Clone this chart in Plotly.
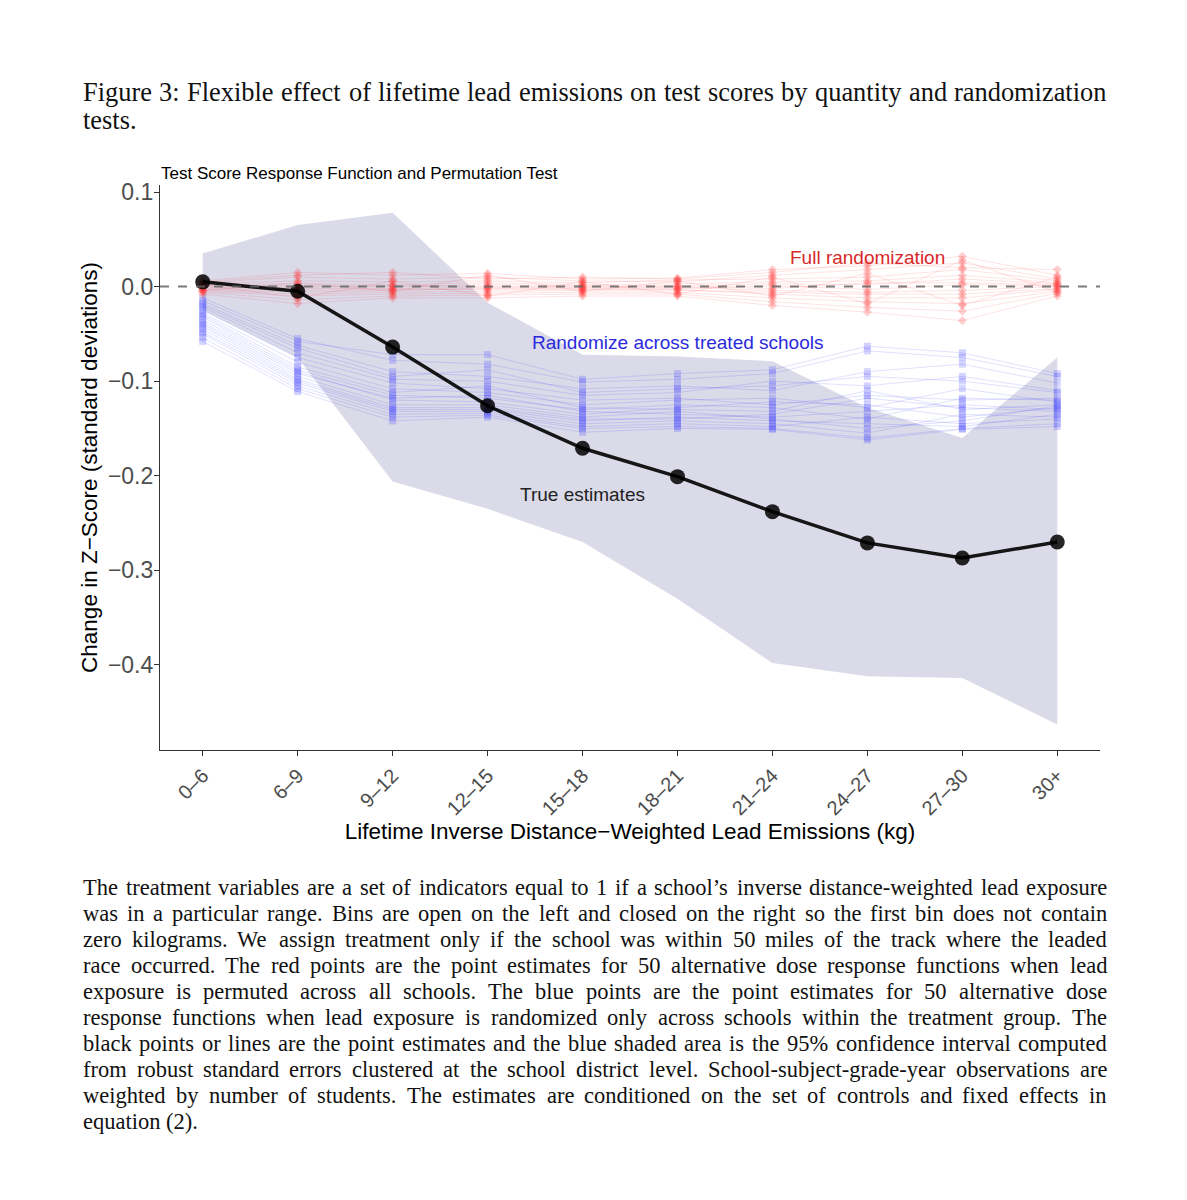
import plotly.graph_objects as go

categories = ["0–6", "6–9", "9–12", "12–15", "15–18", "18–21", "21–24", "24–27", "27–30", "30+"]

true_est = [0.005, -0.005, -0.064, -0.126, -0.171, -0.201, -0.238, -0.271, -0.287, -0.270]
ci_upper = [0.035, 0.065, 0.078, -0.017, -0.072, -0.074, -0.079, -0.128, -0.160, -0.075]
ci_lower = [-0.025, -0.075, -0.206, -0.235, -0.270, -0.330, -0.398, -0.412, -0.414, -0.463]

full_random = [
    [0.006, 0.015, 0.012, 0.014, 0.008, 0.009, 0.018, 0.022, 0.032, 0.012],
    [0.004, 0.010, 0.008, 0.010, 0.006, 0.005, 0.012, 0.018, 0.025, 0.008],
    [0.003, 0.006, 0.005, 0.006, 0.004, 0.007, 0.008, 0.010, 0.018, 0.006],
    [0.002, 0.003, 0.002, 0.004, 0.002, 0.003, 0.005, 0.006, 0.012, 0.004],
    [0.001, 0.001, 0.000, 0.002, 0.001, 0.001, 0.003, 0.002, 0.008, 0.003],
    [0.000, -0.001, 0.001, 0.000, 0.000, 0.000, -0.002, 0.004, 0.004, 0.002],
    [-0.001, -0.002, -0.002, -0.001, -0.001, -0.002, 0.001, -0.003, 0.002, 0.001],
    [-0.002, -0.004, -0.003, -0.003, -0.002, -0.001, -0.004, -0.006, -0.004, 0.000],
    [-0.003, -0.006, -0.004, -0.002, -0.003, -0.004, -0.006, -0.008, -0.008, -0.002],
    [-0.004, -0.008, -0.006, -0.005, -0.004, -0.003, -0.008, -0.012, -0.012, -0.003],
    [-0.005, -0.010, -0.008, -0.007, -0.006, -0.006, -0.012, -0.016, -0.018, -0.005],
    [-0.006, -0.014, -0.010, -0.009, -0.008, -0.008, -0.016, -0.022, -0.026, -0.007],
    [-0.008, -0.018, -0.012, -0.012, -0.010, -0.010, -0.020, -0.027, -0.036, -0.010],
    [0.005, 0.012, 0.015, 0.008, 0.010, 0.008, 0.015, 0.025, 0.020, 0.018],
    [-0.004, 0.004, -0.005, 0.012, -0.005, 0.006, -0.010, 0.014, -0.020, 0.010],
    [0.002, -0.012, 0.006, -0.010, 0.005, -0.008, 0.010, -0.018, 0.028, -0.006],
]

treated_random = [
    [-0.012, -0.055, -0.078, -0.082, -0.101, -0.098, -0.092, -0.068, -0.075, -0.095],
    [-0.015, -0.058, -0.072, -0.072, -0.098, -0.092, -0.088, -0.063, -0.070, -0.092],
    [-0.018, -0.062, -0.090, -0.095, -0.108, -0.105, -0.110, -0.090, -0.082, -0.102],
    [-0.020, -0.065, -0.095, -0.088, -0.112, -0.108, -0.105, -0.095, -0.100, -0.112],
    [-0.022, -0.070, -0.098, -0.100, -0.115, -0.112, -0.100, -0.105, -0.095, -0.110],
    [-0.025, -0.075, -0.102, -0.108, -0.120, -0.118, -0.125, -0.115, -0.120, -0.118],
    [-0.028, -0.080, -0.108, -0.112, -0.125, -0.120, -0.118, -0.128, -0.108, -0.122],
    [-0.030, -0.085, -0.112, -0.105, -0.128, -0.130, -0.132, -0.110, -0.130, -0.125],
    [-0.032, -0.088, -0.115, -0.118, -0.130, -0.125, -0.128, -0.140, -0.118, -0.120],
    [-0.035, -0.090, -0.120, -0.122, -0.135, -0.128, -0.122, -0.125, -0.138, -0.128],
    [-0.038, -0.092, -0.118, -0.115, -0.132, -0.135, -0.138, -0.132, -0.125, -0.130],
    [-0.040, -0.095, -0.125, -0.125, -0.138, -0.132, -0.140, -0.150, -0.142, -0.126],
    [-0.042, -0.098, -0.128, -0.128, -0.140, -0.140, -0.135, -0.118, -0.128, -0.132],
    [-0.045, -0.100, -0.130, -0.130, -0.142, -0.138, -0.142, -0.145, -0.148, -0.135],
    [-0.048, -0.102, -0.132, -0.132, -0.145, -0.142, -0.145, -0.155, -0.135, -0.138],
    [-0.050, -0.105, -0.135, -0.134, -0.148, -0.145, -0.148, -0.138, -0.145, -0.140],
    [-0.054, -0.108, -0.138, -0.136, -0.150, -0.148, -0.150, -0.160, -0.150, -0.145],
    [-0.058, -0.111, -0.142, -0.138, -0.154, -0.150, -0.151, -0.162, -0.151, -0.148],
]

figure_caption = [
    "Figure 3: Flexible effect of lifetime lead emissions on test scores by quantity and randomization",
    "tests.",
]

note_lines = [
    "The treatment variables are a set of indicators equal to 1 if a school’s inverse distance-weighted lead exposure",
    "was in a particular range. Bins are open on the left and closed on the right so the first bin does not contain",
    "zero kilograms. We assign treatment only if the school was within 50 miles of the track where the leaded",
    "race occurred. The red points are the point estimates for 50 alternative dose response functions when lead",
    "exposure is permuted across all schools. The blue points are the point estimates for 50 alternative dose",
    "response functions when lead exposure is randomized only across schools within the treatment group. The",
    "black points or lines are the point estimates and the blue shaded area is the 95% confidence interval computed",
    "from robust standard errors clustered at the school district level. School-subject-grade-year observations are",
    "weighted by number of students. The estimates are conditioned on the set of controls and fixed effects in",
    "equation (2).",
]

SANS = "Liberation Sans, Arial, sans-serif"
SERIF = "Liberation Serif, Times New Roman, serif"

# plot-area geometry in page pixels (used only to place the surrounding text block)
PL, PR, PT, PB = 160, 1100, 185, 750
TEXT_L, TEXT_R = 82, 1106

# Times-compatible advance widths (per 1000 em) for justifying text lines
_W = {" ": 250, ".": 250, ",": 250, "-": 333, ":": 278, "(": 333, ")": 333, "%": 833, "’": 333}
_W.update({c: 500 for c in "0123456789"})
_W.update(dict(zip("abcdefghijklmnopqrstuvwxyz",
                   [444, 500, 444, 500, 444, 333, 500, 500, 278, 278, 500, 278, 778, 500, 500, 500, 500,
                    333, 389, 278, 500, 500, 722, 500, 500, 444])))
_W.update(dict(zip("ABCDEFGHIJKLMNOPQRSTUVWXYZ",
                   [722, 667, 667, 722, 611, 556, 722, 722, 333, 389, 722, 611, 889, 722, 722, 556, 722,
                    667, 556, 611, 722, 722, 944, 722, 722, 611])))


def word_width(w, size):
    return sum(_W.get(c, 500) for c in w) * size / 1000.0


def px_to_paper(xp, yp):
    return (xp - PL) / (PR - PL), (PB - yp) / (PB - PT)


def add_text_block(fig, lines, y_first, spacing, size):
    for i, line in enumerate(lines):
        y_px = y_first + i * spacing
        last = i == len(lines) - 1
        if last:
            xp, yp = px_to_paper(TEXT_L, y_px)
            fig.add_annotation(xref="paper", yref="paper", x=xp, y=yp, xanchor="left", yanchor="middle",
                               text=line, showarrow=False, borderpad=0,
                               font=dict(family=SERIF, size=size, color="#111111"))
            continue
        words = line.split(" ")
        total = sum(word_width(w, size) for w in words)
        gap = (TEXT_R - TEXT_L - total) / (len(words) - 1)
        x = TEXT_L
        for w in words:
            xp, yp = px_to_paper(x, y_px)
            fig.add_annotation(xref="paper", yref="paper", x=xp, y=yp, xanchor="left", yanchor="middle",
                               text=w, showarrow=False, borderpad=0,
                               font=dict(family=SERIF, size=size, color="#111111"))
            x += word_width(w, size) + gap


fig = go.Figure()

# confidence band
fig.add_trace(go.Scatter(
    x=categories + categories[::-1],
    y=ci_upper + ci_lower[::-1],
    fill="toself", fillcolor="rgba(200,200,222,0.68)",
    line=dict(width=0), mode="lines", hoverinfo="skip", showlegend=False,
))

# treated-school randomization lines
for row in treated_random:
    fig.add_trace(go.Scatter(
        x=categories, y=row, mode="lines+markers",
        line=dict(color="rgba(40,40,255,0.14)", width=1),
        marker=dict(color="rgba(60,60,255,0.22)", size=7, symbol="square"),
        showlegend=False, hoverinfo="skip",
    ))

# full randomization lines
for row in full_random:
    fig.add_trace(go.Scatter(
        x=categories, y=row, mode="lines+markers",
        line=dict(color="rgba(255,40,40,0.13)", width=1),
        marker=dict(color="rgba(255,40,40,0.22)", size=7, symbol="diamond"),
        showlegend=False, hoverinfo="skip",
    ))

# true estimates
fig.add_trace(go.Scatter(
    x=categories, y=true_est, mode="lines+markers",
    line=dict(color="rgba(0,0,0,0.9)", width=3.5),
    marker=dict(color="rgba(0,0,0,0.85)", size=15),
    showlegend=False,
))

# zero reference line
fig.add_shape(type="line", xref="paper", x0=0, x1=1, yref="y", y0=0, y1=0,
              line=dict(color="rgba(100,100,100,0.85)", width=2, dash="dash"))

fig.add_annotation(x=7, y=0.0307, text="Full randomization", showarrow=False,
                   font=dict(family=SANS, size=19, color="#d8282a"))
fig.add_annotation(x=5, y=-0.0592, text="Randomize across treated schools", showarrow=False,
                   font=dict(family=SANS, size=19, color="#2a2adc"))
fig.add_annotation(x=4, y=-0.220, text="True estimates", showarrow=False,
                   font=dict(family=SANS, size=19, color="#222222"))

# plot title
fig.add_annotation(xref="paper", yref="paper", x=0.0, y=1.0, xanchor="left", yanchor="middle",
                   yshift=PT - 173, text="Test Score Response Function and Permutation Test",
                   showarrow=False, borderpad=0, font=dict(family=SANS, size=17, color="black"))

# figure caption (above) and note (below)
add_text_block(fig, figure_caption, 92, 28, 26.4)
add_text_block(fig, note_lines, 887, 26.1, 22.5)

fig.update_layout(
    width=1179, height=1192,
    margin=dict(l=152, r=87, t=177, b=450),
    paper_bgcolor="white", plot_bgcolor="white",
    font=dict(family=SANS),
    xaxis=dict(
        type="category", categoryorder="array", categoryarray=categories,
        range=[-0.45, 9.45], showgrid=False, zeroline=False,
        showline=True, linecolor="#333333", linewidth=1.2,
        ticks="outside", ticklen=5, tickcolor="#333333",
        tickangle=-45, tickfont=dict(size=20, color="#4d4d4d"),
        title=dict(text="Lifetime Inverse Distance−Weighted Lead Emissions (kg)",
                   font=dict(size=22.5, color="black"), standoff=4),
    ),
    yaxis=dict(
        range=[-0.49, 0.1074], showgrid=False, zeroline=False,
        showline=True, linecolor="#333333", linewidth=1.2,
        ticks="outside", ticklen=5, tickcolor="#333333",
        ticklabelstandoff=-4,
        tickvals=[0.1, 0.0, -0.1, -0.2, -0.3, -0.4], tickformat=".1f",
        tickfont=dict(size=23, color="#4d4d4d"),
        title=dict(text="Change in Z−Score (standard deviations)",
                   font=dict(size=22.5, color="black"), standoff=4),
    ),
)

fig.write_html("out.html")
